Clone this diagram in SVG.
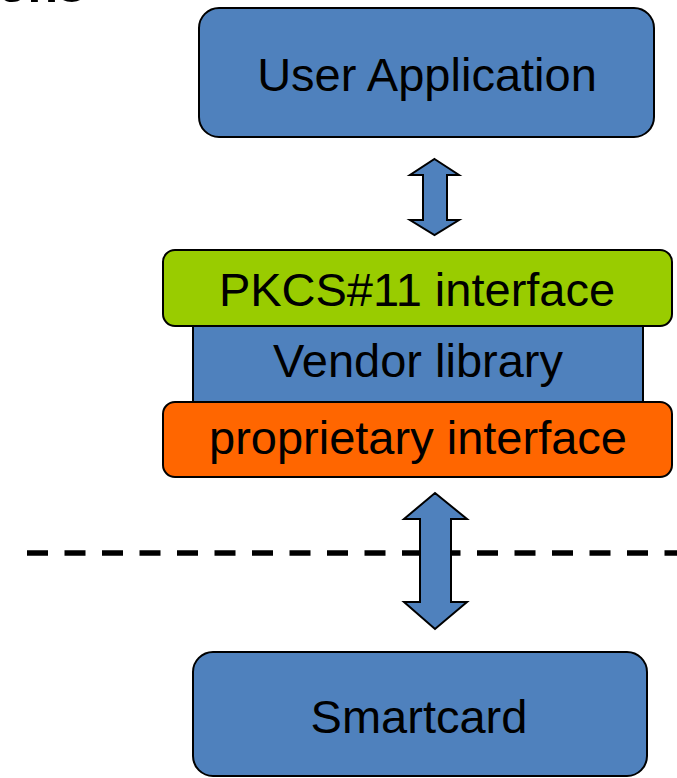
<svg xmlns="http://www.w3.org/2000/svg" width="677" height="778" viewBox="0 0 677 778">
<style>
.box{stroke:#000;stroke-width:2}
.blue{fill:#4F81BD}
.green{fill:#99CC00}
.orange{fill:#FF6600}
.lbl{font-family:"Liberation Sans",Arial,sans-serif;font-size:47px;fill:#000;text-anchor:middle}
.arrow{fill:#4F81BD;stroke:#000;stroke-width:2;stroke-linejoin:miter}
</style>
<rect width="677" height="778" fill="#fff"/>
<text x="-3" y="2" font-family="Liberation Sans,Arial,sans-serif" font-weight="bold" font-size="50" fill="#000">ons</text>
<line x1="27" y1="553" x2="677" y2="553" stroke="#000" stroke-width="5.5" stroke-dasharray="21 16.5"/>
<g id="user-application">
<rect class="box blue" x="199" y="8" width="455" height="129" rx="20"/>
<text class="lbl" x="427" y="91">User Application</text>
</g>
<g id="vendor-library">
<rect class="box blue" x="193" y="320" width="450" height="88"/>
<text class="lbl" x="418" y="377">Vendor library</text>
</g>
<g id="pkcs11-interface">
<rect class="box green" x="163" y="250" width="509" height="76" rx="12"/>
<text class="lbl" x="417" y="306">PKCS#11 interface</text>
</g>
<g id="proprietary-interface">
<rect class="box orange" x="163" y="402" width="509" height="75" rx="12"/>
<text class="lbl" x="418" y="454">proprietary interface</text>
</g>
<g id="smartcard">
<rect class="box blue" x="193" y="652" width="454" height="124" rx="20"/>
<text class="lbl" x="419" y="733">Smartcard</text>
</g>
<g id="connectors">
<polygon class="arrow" points="434.5,159 459,175 447,175 447,220 459,220 434.5,235 410,220 423,220 423,175 410,175"/>
<polygon class="arrow" points="435,493 467,519 451,519 451,602 467,602 435,629 404,602 420,602 420,519 404,519"/>
</g>
</svg>
